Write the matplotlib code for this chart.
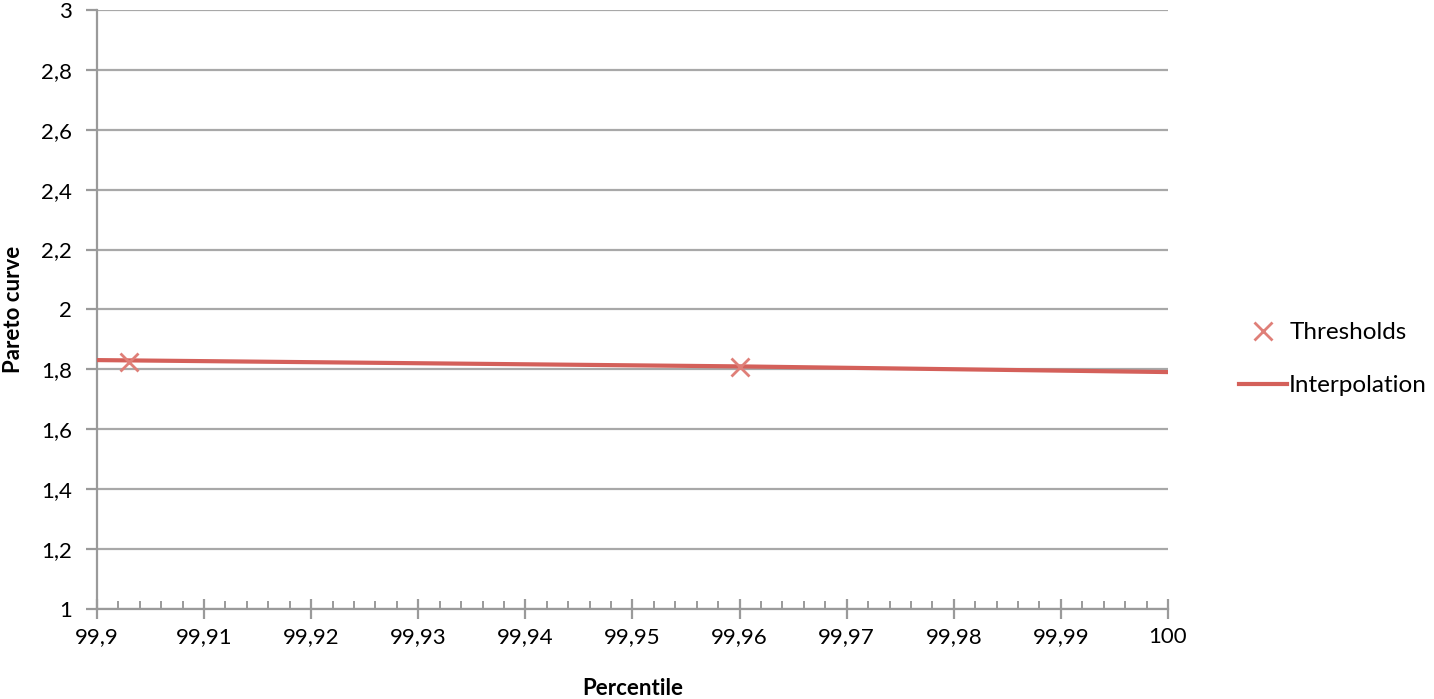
import matplotlib
matplotlib.use("Agg")
import matplotlib.pyplot as plt
from matplotlib.ticker import MultipleLocator, FuncFormatter

# Data
threshold_x = [99.903, 99.96]
threshold_y = [1.824, 1.808]
interp_x = [99.9, 99.903, 99.96, 100.0]
interp_y = [1.831, 1.830, 1.810, 1.791]

plt.rcParams['font.family'] = ['Lato', 'DejaVu Sans']

fig = plt.figure(figsize=(14.34, 6.99), dpi=100)
ax = fig.add_axes([0.0676, 0.1288, 0.7469, 0.8569])

line_color = '#d4605a'
marker_color = '#df7f78'
grid_color = '#a8a8a8'

ax.plot(interp_x, interp_y, color=line_color, lw=3, label='Interpolation', zorder=3)
ax.plot(threshold_x, threshold_y, linestyle='none', marker='x', ms=13, mew=2,
        color=marker_color, label='Thresholds', zorder=4)

ax.set_xlim(99.9, 100.0)
ax.set_ylim(1, 3)
ax.xaxis.set_major_locator(MultipleLocator(0.01))
ax.xaxis.set_minor_locator(MultipleLocator(0.002))
ax.yaxis.set_major_locator(MultipleLocator(0.2))

def fmt_x(v, pos):
    s = f"{v:.2f}".rstrip('0').rstrip('.')
    return s.replace('.', ',')

def fmt_y(v, pos):
    s = f"{v:.1f}".rstrip('0').rstrip('.')
    return s.replace('.', ',')

ax.xaxis.set_major_formatter(FuncFormatter(fmt_x))
ax.yaxis.set_major_formatter(FuncFormatter(fmt_y))

ax.grid(axis='y', color=grid_color, lw=1.6)
ax.set_axisbelow(True)
for s in ['top', 'right']:
    ax.spines[s].set_visible(False)
for s in ['left', 'bottom']:
    ax.spines[s].set_color('#9a9a9a')
    ax.spines[s].set_linewidth(1.6)

ax.tick_params(axis='x', which='major', direction='inout', length=14, width=1.6,
               color='#9a9a9a', labelsize=16, pad=6)
ax.tick_params(axis='x', which='minor', direction='in', length=6, width=1.4,
               color='#9a9a9a')
ax.tick_params(axis='y', which='major', direction='out', length=8, width=1.6,
               color='#9a9a9a', labelsize=16, pad=10)

ax.set_xlabel('Percentile', fontsize=16, fontweight='bold', labelpad=22)
ax.set_ylabel('Pareto curve', fontsize=16, fontweight='bold', labelpad=12)

handles, labels = ax.get_legend_handles_labels()
order = [1, 0]
leg = fig.legend([handles[i] for i in order], [labels[i] for i in order],
                 loc='center left', bbox_to_anchor=(0.857, 0.486),
                 frameon=False, fontsize=17.5, handlelength=1.98,
                 handletextpad=0.1, labelspacing=1.32, borderaxespad=0)

fig.savefig('out.png', dpi=100)
